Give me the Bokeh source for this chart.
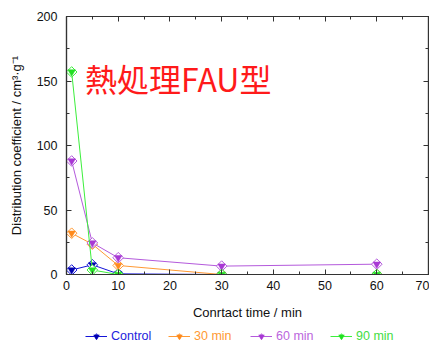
import math
from bokeh.plotting import figure
from bokeh.layouts import column
from bokeh.models import (Range1d, LinearAxis, Legend, LegendItem, Label,
                          SingleIntervalTicker, CustomJSTickFormatter)
from bokeh.embed import file_html
from bokeh.resources import INLINE

# ---- data ----
time = [1, 5, 10, 30, 60]
control = [3.5, 7.5, 0.5, 0, 0]
min30 = [32, 23.5, 7, 0, 0]
min60 = [88, 24.5, 13, 6.5, 8]
min90 = [157, 3.5, 0, 0, 0]
series_names = ["Control", "30 min", "60 min", "90 min"]
series_values = [control, min30, min60, min90]
line_colors = ["#1414d8", "#ff9933", "#b45adc", "#3cee3c"]
fill_colors = ["#0000b0", "#ff8a1c", "#a838d4", "#22e022"]
text_colors = ["#2222dd", "#ff9933", "#bb66dd", "#44dd44"]
title_text = "熱処理FAU型"

FONT = "Liberation Sans"

p = figure(width=429, height=322, output_backend="svg", toolbar_location=None,
           x_range=Range1d(0, 70), y_range=Range1d(0, 200),
           min_border_left=66, min_border_right=1, min_border_top=16,
           min_border_bottom=46)
p.grid.visible = False
p.outline_line_color = "#333333"
p.outline_line_width = 1.2
p.background_fill_color = "white"
p.border_fill_color = "white"

def style_axis(ax):
    ax.axis_line_color = "#333333"
    ax.axis_line_width = 1.2
    ax.major_tick_in = 5
    ax.major_tick_out = 0
    ax.minor_tick_in = 3
    ax.minor_tick_out = 0
    ax.major_tick_line_color = "#333333"
    ax.minor_tick_line_color = "#333333"
    ax.major_label_text_font = FONT
    ax.major_label_text_font_size = "12.5px"
    ax.major_label_text_color = "#111111"
    ax.axis_label_text_font = FONT
    ax.axis_label_text_font_size = "13px"
    ax.axis_label_text_font_style = "normal"
    ax.axis_label_text_color = "#111111"

xa = p.xaxis[0]
xa.ticker = SingleIntervalTicker(interval=10, num_minor_ticks=2)
xa.axis_label = "Conrtact time / min"
xa.major_label_standoff = 6
xa.axis_label_standoff = 12
style_axis(xa)

ya = p.yaxis[0]
ya.ticker = SingleIntervalTicker(interval=50, num_minor_ticks=2)
ya.axis_label = "Distribution coefficient / cm³·g⁻¹"
ya.major_label_standoff = 9
ya.axis_label_standoff = 10
style_axis(ya)

blank = CustomJSTickFormatter(code="return ''")
top = LinearAxis(ticker=SingleIntervalTicker(interval=10, num_minor_ticks=2),
                 formatter=blank, major_label_standoff=0)
style_axis(top)
p.add_layout(top, "above")
right = LinearAxis(ticker=SingleIntervalTicker(interval=50, num_minor_ticks=2),
                   formatter=blank, major_label_standoff=0)
style_axis(right)
p.add_layout(right, "right")

# legend strip (its frame is aligned with the main frame by the column)
lf = figure(width=429, height=24, output_backend="svg", toolbar_location=None,
            x_axis_type=None, y_axis_type=None, min_border=0,
            min_border_left=66, min_border_right=1,
            x_range=Range1d(-10, -9), y_range=Range1d(-10, -9))
lf.grid.visible = False
lf.outline_line_color = None
lf.background_fill_color = "white"
lf.border_fill_color = "white"

legend_x = [19, 102, 184, 264]
for name, vals, lc, fc, tc, lx in zip(series_names, series_values, line_colors,
                                      fill_colors, text_colors, legend_x):
    p.line(time, vals, line_color=lc, line_width=1)
    p.scatter(time, vals, marker="square", angle=math.pi / 4, size=7.5,
              fill_color="white", line_color=lc, line_width=1)
    p.scatter(time, vals, marker="inverted_triangle", size=7.5,
              fill_color=fc, line_color=fc, line_width=0.5)
    r1 = lf.line(time, vals, line_color=lc, line_width=1)
    r2 = lf.scatter(time, vals, marker="diamond", size=11,
                    fill_color="white", line_color=lc, line_width=1)
    r3 = lf.scatter(time, vals, marker="inverted_triangle", size=6.5,
                    fill_color=fc, line_color=fc, line_width=0.5)
    leg = Legend(items=[LegendItem(label=name, renderers=[r1, r2, r3])],
                 location=(lx, 3), orientation="horizontal",
                 background_fill_alpha=0, border_line_alpha=0,
                 padding=0, margin=0, glyph_width=22, glyph_height=14,
                 label_standoff=4, label_text_font=FONT,
                 label_text_font_size="12.5px", label_text_color=tc,
                 label_height=14)
    lf.add_layout(leg, "center")

p.add_layout(Label(x=3.6, y=152, text=title_text, text_color="#ff1a1a",
                   text_font="Noto Sans CJK JP", text_font_size="32px",
                   text_baseline="middle"))

open("out.html", "w").write(file_html(column(p, lf, spacing=0), INLINE))
